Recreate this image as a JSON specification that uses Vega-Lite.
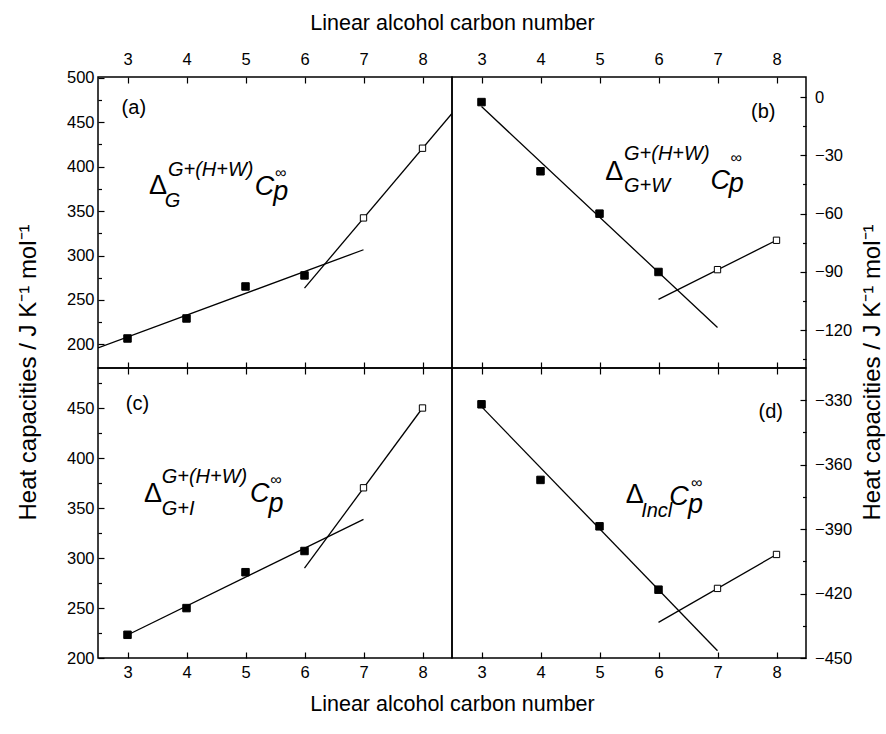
{
  "$schema": "https://vega.github.io/schema/vega-lite/v6.json",
  "padding": {"left": 15, "top": 11, "right": 3, "bottom": 16},
  "background": "white",
  "config": {
    "font": "Liberation Sans",
    "view": {"stroke": "black", "strokeWidth": 1.5},
    "axis": {
      "domain": false, "grid": false,
      "tickColor": "black", "tickWidth": 1.2, "tickSize": -6,
      "labelFont": "Liberation Sans", "labelFontSize": 16.5, "labelColor": "black",
      "labelFlush": false, "labelOverlap": false,
      "titleFont": "Liberation Sans", "titleFontSize": 21.5, "titleFontWeight": "normal", "titleColor": "black"
    },
    "axisTop": {"labelBaseline": "alphabetic", "labelPadding": 18.5},
    "axisBottom": {"labelBaseline": "alphabetic", "labelPadding": 25},
    "axisLeft": {"labelPadding": 10},
    "axisRight": {"labelPadding": 14.5}
  },
  "datasets": {
    "points": [
      {"panel": "a", "n": 3, "cp": 206.7, "kind": "filled"},
      {"panel": "a", "n": 4, "cp": 229.2, "kind": "filled"},
      {"panel": "a", "n": 5, "cp": 265.2, "kind": "filled"},
      {"panel": "a", "n": 6, "cp": 277.6, "kind": "filled"},
      {"panel": "a", "n": 7, "cp": 342.3, "kind": "open"},
      {"panel": "a", "n": 8, "cp": 420.7, "kind": "open"},
      {"panel": "b", "n": 3, "cp": -2.6, "kind": "filled"},
      {"panel": "b", "n": 4, "cp": -38.2, "kind": "filled"},
      {"panel": "b", "n": 5, "cp": -60.0, "kind": "filled"},
      {"panel": "b", "n": 6, "cp": -90.0, "kind": "filled"},
      {"panel": "b", "n": 7, "cp": -88.8, "kind": "open"},
      {"panel": "b", "n": 8, "cp": -73.7, "kind": "open"},
      {"panel": "c", "n": 3, "cp": 223.2, "kind": "filled"},
      {"panel": "c", "n": 4, "cp": 249.9, "kind": "filled"},
      {"panel": "c", "n": 5, "cp": 285.8, "kind": "filled"},
      {"panel": "c", "n": 6, "cp": 307.0, "kind": "filled"},
      {"panel": "c", "n": 7, "cp": 370.2, "kind": "open"},
      {"panel": "c", "n": 8, "cp": 450.0, "kind": "open"},
      {"panel": "d", "n": 3, "cp": -331.9, "kind": "filled"},
      {"panel": "d", "n": 4, "cp": -367.1, "kind": "filled"},
      {"panel": "d", "n": 5, "cp": -388.7, "kind": "filled"},
      {"panel": "d", "n": 6, "cp": -418.2, "kind": "filled"},
      {"panel": "d", "n": 7, "cp": -417.6, "kind": "open"},
      {"panel": "d", "n": 8, "cp": -401.8, "kind": "open"}
    ],
    "fits": [
      {"panel": "a", "fit": "short", "n": 2.5, "cp": 196.2},
      {"panel": "a", "fit": "short", "n": 7, "cp": 306.5},
      {"panel": "a", "fit": "long", "n": 6, "cp": 263.4},
      {"panel": "a", "fit": "long", "n": 8.5, "cp": 459.8},
      {"panel": "b", "fit": "short", "n": 3, "cp": -4.9},
      {"panel": "b", "fit": "short", "n": 7, "cp": -118.6},
      {"panel": "b", "fit": "long", "n": 6, "cp": -104.1},
      {"panel": "b", "fit": "long", "n": 8, "cp": -73.7},
      {"panel": "c", "fit": "short", "n": 3, "cp": 223.0},
      {"panel": "c", "fit": "short", "n": 7, "cp": 338.7},
      {"panel": "c", "fit": "long", "n": 6, "cp": 289.8},
      {"panel": "c", "fit": "long", "n": 8, "cp": 450.0},
      {"panel": "d", "fit": "short", "n": 3, "cp": -333.0},
      {"panel": "d", "fit": "short", "n": 7, "cp": -446.6},
      {"panel": "d", "fit": "long", "n": 6, "cp": -433.4},
      {"panel": "d", "fit": "long", "n": 8, "cp": -401.8}
    ],
    "notes": [
      {"panel": "a", "role": "tag", "text": "(a)", "n": 3.107, "cp": 465.6},
      {"panel": "a", "role": "delta", "text": "Δ", "n": 3.366, "cp": 369.7},
      {"panel": "a", "role": "script", "text": "G", "n": 3.63, "cp": 354.7},
      {"panel": "a", "role": "script", "text": "G+(H+W)", "n": 3.685, "cp": 389.7},
      {"panel": "a", "role": "big", "text": "C", "n": 5.156, "cp": 367.8},
      {"panel": "a", "role": "big", "text": "p", "n": 5.47, "cp": 362.2},
      {"panel": "a", "role": "inf", "text": "∞", "n": 5.5, "cp": 387.0},
      {"panel": "b", "role": "tag", "text": "(b)", "n": 7.776, "cp": -7.7},
      {"panel": "b", "role": "delta", "text": "Δ", "n": 5.096, "cp": -42.8},
      {"panel": "b", "role": "script", "text": "G+W", "n": 5.415, "cp": -48.9},
      {"panel": "b", "role": "script", "text": "G+(H+W)", "n": 5.415, "cp": -32.5},
      {"panel": "b", "role": "big", "text": "C", "n": 6.88, "cp": -47.1},
      {"panel": "b", "role": "big", "text": "p", "n": 7.19, "cp": -49.0},
      {"panel": "b", "role": "inf", "text": "∞", "n": 7.22, "cp": -34.0},
      {"panel": "c", "role": "tag", "text": "(c)", "n": 3.17, "cp": 453.7},
      {"panel": "c", "role": "delta", "text": "Δ", "n": 3.281, "cp": 356.2},
      {"panel": "c", "role": "script", "text": "G+I", "n": 3.58, "cp": 343.0},
      {"panel": "c", "role": "script", "text": "G+(H+W)", "n": 3.58, "cp": 374.6},
      {"panel": "c", "role": "big", "text": "C", "n": 5.077, "cp": 356.2},
      {"panel": "c", "role": "big", "text": "p", "n": 5.39, "cp": 346.3},
      {"panel": "c", "role": "inf", "text": "∞", "n": 5.42, "cp": 373.0},
      {"panel": "d", "role": "tag", "text": "(d)", "n": 7.903, "cp": -335.4},
      {"panel": "d", "role": "delta", "text": "Δ", "n": 5.446, "cp": -378.0},
      {"panel": "d", "role": "script", "text": "Incl", "n": 5.706, "cp": -384.3},
      {"panel": "d", "role": "big", "text": "C", "n": 6.183, "cp": -378.8},
      {"panel": "d", "role": "big", "text": "p", "n": 6.5, "cp": -382.4},
      {"panel": "d", "role": "inf", "text": "∞", "n": 6.55, "cp": -371.0}
    ]
  },
  "columns": 2,
  "spacing": 0,
  "bounds": "flush",
  "concat": [
    {
      "width": 354, "height": 291,
      "resolve": {"axis": {"x": "independent", "y": "independent"}},
      "layer": [
        {
          "data": {"name": "fits"},
          "transform": [{"filter": "datum.panel === 'a'"}],
          "mark": {"type": "line", "color": "black", "strokeWidth": 1.3, "clip": true},
          "encoding": {
            "x": {"field": "n", "type": "quantitative", "scale": {"domain": [2.5, 8.5], "nice": false, "zero": false},
                  "axis": {"orient": "top", "values": [3, 4, 5, 6, 7, 8], "title": "Linear alcohol carbon number", "titleX": 354, "titleY": -48, "titleAlign": "center", "titleBaseline": "alphabetic"}},
            "y": {"field": "cp", "type": "quantitative", "scale": {"domain": [173.5, 500.8], "nice": false, "zero": false},
                  "axis": {"orient": "left", "values": [200, 250, 300, 350, 400, 450, 500], "title": "Heat capacities / J K⁻¹ mol⁻¹", "titleFontSize": 24, "titleX": -70, "titleY": 295, "titleAngle": -90, "titleAlign": "center", "titleBaseline": "middle"}},
            "detail": {"field": "fit"}
          }
        },
        {
          "data": {"name": "points"},
          "transform": [{"filter": "datum.panel === 'a'"}],
          "mark": {"type": "point", "shape": "square", "filled": true, "stroke": "black", "strokeWidth": 1, "opacity": 1},
          "encoding": {
            "x": {"field": "n", "type": "quantitative", "scale": {"domain": [2.5, 8.5], "nice": false, "zero": false},
                  "axis": {"orient": "bottom", "values": [3, 4, 5, 6, 7, 8], "labels": false, "title": null}},
            "y": {"field": "cp", "type": "quantitative", "scale": {"domain": [173.5, 500.8], "nice": false, "zero": false},
                  "axis": {"orient": "left", "values": [225, 275, 325, 375, 425, 475], "labels": false, "title": null, "tickSize": -3.5}},
            "fill": {"field": "kind", "type": "nominal", "scale": {"domain": ["filled", "open"], "range": ["black", "white"]}, "legend": null},
            "size": {"field": "kind", "type": "nominal", "scale": {"domain": ["filled", "open"], "range": [56, 40]}, "legend": null}
          }
        },
        {
          "data": {"name": "notes"},
          "transform": [{"filter": "datum.panel === 'a'"}],
          "encoding": {
            "x": {"field": "n", "type": "quantitative", "scale": {"domain": [2.5, 8.5], "nice": false, "zero": false}, "axis": null},
            "y": {"field": "cp", "type": "quantitative", "scale": {"domain": [173.5, 500.8], "nice": false, "zero": false}, "axis": null},
            "text": {"field": "text"}
          },
          "layer": [
            {"transform": [{"filter": "datum.role === 'tag'"}], "mark": {"type": "text", "fontSize": 20, "align": "center", "baseline": "middle", "color": "black"}},
            {"transform": [{"filter": "datum.role === 'delta'"}], "mark": {"type": "text", "fontSize": 27, "align": "left", "baseline": "alphabetic", "color": "black"}},
            {"transform": [{"filter": "datum.role === 'inf'"}], "mark": {"type": "text", "fontSize": 16, "align": "left", "baseline": "alphabetic", "color": "black"}},
            {"transform": [{"filter": "datum.role === 'script'"}], "mark": {"type": "text", "fontSize": 20, "fontStyle": "italic", "align": "left", "baseline": "alphabetic", "color": "black"}},
            {"transform": [{"filter": "datum.role === 'big'"}], "mark": {"type": "text", "fontSize": 27, "fontStyle": "italic", "align": "left", "baseline": "alphabetic", "color": "black"}}
          ]
        }
      ]
    },
    {
      "width": 354, "height": 291,
      "resolve": {"axis": {"x": "independent", "y": "independent"}},
      "layer": [
        {
          "data": {"name": "fits"},
          "transform": [{"filter": "datum.panel === 'b'"}],
          "mark": {"type": "line", "color": "black", "strokeWidth": 1.3, "clip": true},
          "encoding": {
            "x": {"field": "n", "type": "quantitative", "scale": {"domain": [2.5, 8.5], "nice": false, "zero": false},
                  "axis": {"orient": "top", "values": [3, 4, 5, 6, 7, 8], "title": null}},
            "y": {"field": "cp", "type": "quantitative", "scale": {"domain": [-139.4, 10.3], "nice": false, "zero": false},
                  "axis": {"orient": "right", "values": [-120, -90, -60, -30, 0], "title": "Heat capacities / J K⁻¹ mol⁻¹", "titleFontSize": 24, "titleX": 66, "titleY": 295, "titleAngle": -90, "titleAlign": "center", "titleBaseline": "middle"}},
            "detail": {"field": "fit"}
          }
        },
        {
          "data": {"name": "points"},
          "transform": [{"filter": "datum.panel === 'b'"}],
          "mark": {"type": "point", "shape": "square", "filled": true, "stroke": "black", "strokeWidth": 1, "opacity": 1},
          "encoding": {
            "x": {"field": "n", "type": "quantitative", "scale": {"domain": [2.5, 8.5], "nice": false, "zero": false},
                  "axis": {"orient": "bottom", "values": [3, 4, 5, 6, 7, 8], "labels": false, "title": null}},
            "y": {"field": "cp", "type": "quantitative", "scale": {"domain": [-139.4, 10.3], "nice": false, "zero": false},
                  "axis": {"orient": "right", "values": [-135, -105, -75, -45, -15], "labels": false, "title": null, "tickSize": -3.5}},
            "fill": {"field": "kind", "type": "nominal", "scale": {"domain": ["filled", "open"], "range": ["black", "white"]}, "legend": null},
            "size": {"field": "kind", "type": "nominal", "scale": {"domain": ["filled", "open"], "range": [56, 40]}, "legend": null}
          }
        },
        {
          "data": {"name": "notes"},
          "transform": [{"filter": "datum.panel === 'b'"}],
          "encoding": {
            "x": {"field": "n", "type": "quantitative", "scale": {"domain": [2.5, 8.5], "nice": false, "zero": false}, "axis": null},
            "y": {"field": "cp", "type": "quantitative", "scale": {"domain": [-139.4, 10.3], "nice": false, "zero": false}, "axis": null},
            "text": {"field": "text"}
          },
          "layer": [
            {"transform": [{"filter": "datum.role === 'tag'"}], "mark": {"type": "text", "fontSize": 20, "align": "center", "baseline": "middle", "color": "black"}},
            {"transform": [{"filter": "datum.role === 'delta'"}], "mark": {"type": "text", "fontSize": 27, "align": "left", "baseline": "alphabetic", "color": "black"}},
            {"transform": [{"filter": "datum.role === 'inf'"}], "mark": {"type": "text", "fontSize": 16, "align": "left", "baseline": "alphabetic", "color": "black"}},
            {"transform": [{"filter": "datum.role === 'script'"}], "mark": {"type": "text", "fontSize": 20, "fontStyle": "italic", "align": "left", "baseline": "alphabetic", "color": "black"}},
            {"transform": [{"filter": "datum.role === 'big'"}], "mark": {"type": "text", "fontSize": 27, "fontStyle": "italic", "align": "left", "baseline": "alphabetic", "color": "black"}}
          ]
        }
      ]
    },
    {
      "width": 354, "height": 290,
      "resolve": {"axis": {"x": "independent", "y": "independent"}},
      "layer": [
        {
          "data": {"name": "fits"},
          "transform": [{"filter": "datum.panel === 'c'"}],
          "mark": {"type": "line", "color": "black", "strokeWidth": 1.3, "clip": true},
          "encoding": {
            "x": {"field": "n", "type": "quantitative", "scale": {"domain": [2.5, 8.5], "nice": false, "zero": false},
                  "axis": {"orient": "bottom", "values": [3, 4, 5, 6, 7, 8], "title": "Linear alcohol carbon number", "titleX": 354, "titleY": 52, "titleAlign": "center", "titleBaseline": "alphabetic"}},
            "y": {"field": "cp", "type": "quantitative", "scale": {"domain": [200, 490], "nice": false, "zero": false},
                  "axis": {"orient": "left", "values": [200, 250, 300, 350, 400, 450], "title": null}},
            "detail": {"field": "fit"}
          }
        },
        {
          "data": {"name": "points"},
          "transform": [{"filter": "datum.panel === 'c'"}],
          "mark": {"type": "point", "shape": "square", "filled": true, "stroke": "black", "strokeWidth": 1, "opacity": 1},
          "encoding": {
            "x": {"field": "n", "type": "quantitative", "scale": {"domain": [2.5, 8.5], "nice": false, "zero": false},
                  "axis": {"orient": "top", "values": [3, 4, 5, 6, 7, 8], "labels": false, "title": null}},
            "y": {"field": "cp", "type": "quantitative", "scale": {"domain": [200, 490], "nice": false, "zero": false},
                  "axis": {"orient": "left", "values": [225, 275, 325, 375, 425, 475], "labels": false, "title": null, "tickSize": -3.5}},
            "fill": {"field": "kind", "type": "nominal", "scale": {"domain": ["filled", "open"], "range": ["black", "white"]}, "legend": null},
            "size": {"field": "kind", "type": "nominal", "scale": {"domain": ["filled", "open"], "range": [56, 40]}, "legend": null}
          }
        },
        {
          "data": {"name": "notes"},
          "transform": [{"filter": "datum.panel === 'c'"}],
          "encoding": {
            "x": {"field": "n", "type": "quantitative", "scale": {"domain": [2.5, 8.5], "nice": false, "zero": false}, "axis": null},
            "y": {"field": "cp", "type": "quantitative", "scale": {"domain": [200, 490], "nice": false, "zero": false}, "axis": null},
            "text": {"field": "text"}
          },
          "layer": [
            {"transform": [{"filter": "datum.role === 'tag'"}], "mark": {"type": "text", "fontSize": 20, "align": "center", "baseline": "middle", "color": "black"}},
            {"transform": [{"filter": "datum.role === 'delta'"}], "mark": {"type": "text", "fontSize": 27, "align": "left", "baseline": "alphabetic", "color": "black"}},
            {"transform": [{"filter": "datum.role === 'inf'"}], "mark": {"type": "text", "fontSize": 16, "align": "left", "baseline": "alphabetic", "color": "black"}},
            {"transform": [{"filter": "datum.role === 'script'"}], "mark": {"type": "text", "fontSize": 20, "fontStyle": "italic", "align": "left", "baseline": "alphabetic", "color": "black"}},
            {"transform": [{"filter": "datum.role === 'big'"}], "mark": {"type": "text", "fontSize": 27, "fontStyle": "italic", "align": "left", "baseline": "alphabetic", "color": "black"}}
          ]
        }
      ]
    },
    {
      "width": 354, "height": 290,
      "resolve": {"axis": {"x": "independent", "y": "independent"}},
      "layer": [
        {
          "data": {"name": "fits"},
          "transform": [{"filter": "datum.panel === 'd'"}],
          "mark": {"type": "line", "color": "black", "strokeWidth": 1.3, "clip": true},
          "encoding": {
            "x": {"field": "n", "type": "quantitative", "scale": {"domain": [2.5, 8.5], "nice": false, "zero": false},
                  "axis": {"orient": "bottom", "values": [3, 4, 5, 6, 7, 8], "title": null}},
            "y": {"field": "cp", "type": "quantitative", "scale": {"domain": [-450, -315], "nice": false, "zero": false},
                  "axis": {"orient": "right", "values": [-450, -420, -390, -360, -330], "title": null}},
            "detail": {"field": "fit"}
          }
        },
        {
          "data": {"name": "points"},
          "transform": [{"filter": "datum.panel === 'd'"}],
          "mark": {"type": "point", "shape": "square", "filled": true, "stroke": "black", "strokeWidth": 1, "opacity": 1},
          "encoding": {
            "x": {"field": "n", "type": "quantitative", "scale": {"domain": [2.5, 8.5], "nice": false, "zero": false},
                  "axis": {"orient": "top", "values": [3, 4, 5, 6, 7, 8], "labels": false, "title": null}},
            "y": {"field": "cp", "type": "quantitative", "scale": {"domain": [-450, -315], "nice": false, "zero": false},
                  "axis": {"orient": "right", "values": [-435, -405, -375, -345], "labels": false, "title": null, "tickSize": -3.5}},
            "fill": {"field": "kind", "type": "nominal", "scale": {"domain": ["filled", "open"], "range": ["black", "white"]}, "legend": null},
            "size": {"field": "kind", "type": "nominal", "scale": {"domain": ["filled", "open"], "range": [56, 40]}, "legend": null}
          }
        },
        {
          "data": {"name": "notes"},
          "transform": [{"filter": "datum.panel === 'd'"}],
          "encoding": {
            "x": {"field": "n", "type": "quantitative", "scale": {"domain": [2.5, 8.5], "nice": false, "zero": false}, "axis": null},
            "y": {"field": "cp", "type": "quantitative", "scale": {"domain": [-450, -315], "nice": false, "zero": false}, "axis": null},
            "text": {"field": "text"}
          },
          "layer": [
            {"transform": [{"filter": "datum.role === 'tag'"}], "mark": {"type": "text", "fontSize": 20, "align": "center", "baseline": "middle", "color": "black"}},
            {"transform": [{"filter": "datum.role === 'delta'"}], "mark": {"type": "text", "fontSize": 27, "align": "left", "baseline": "alphabetic", "color": "black"}},
            {"transform": [{"filter": "datum.role === 'inf'"}], "mark": {"type": "text", "fontSize": 16, "align": "left", "baseline": "alphabetic", "color": "black"}},
            {"transform": [{"filter": "datum.role === 'script'"}], "mark": {"type": "text", "fontSize": 20, "fontStyle": "italic", "align": "left", "baseline": "alphabetic", "color": "black"}},
            {"transform": [{"filter": "datum.role === 'big'"}], "mark": {"type": "text", "fontSize": 27, "fontStyle": "italic", "align": "left", "baseline": "alphabetic", "color": "black"}}
          ]
        }
      ]
    }
  ]
}
